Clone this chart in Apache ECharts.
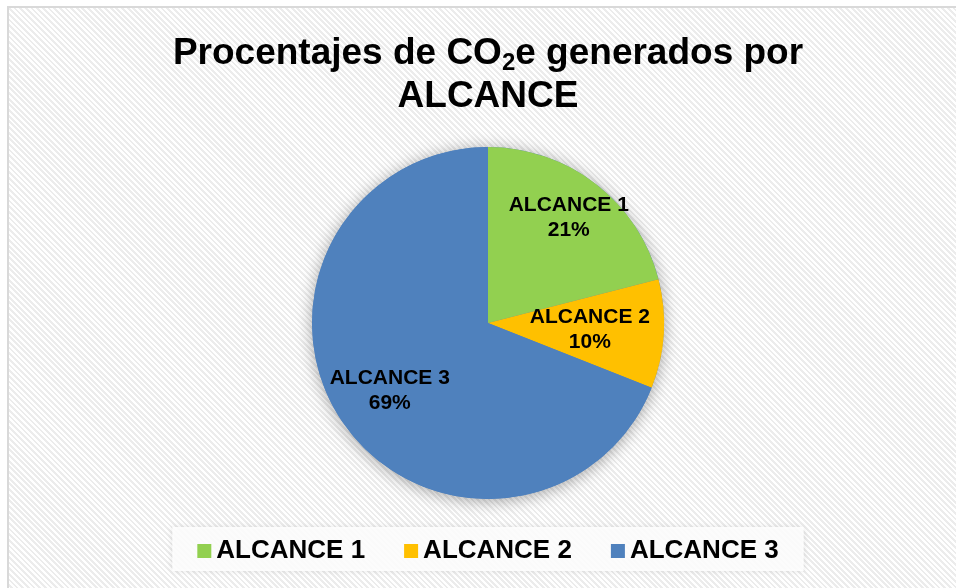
<!DOCTYPE html>
<html>
<head>
<meta charset="utf-8">
<script src="https://cdn.jsdelivr.net/npm/echarts@6/dist/echarts.min.js"></script>
<style>
  html, body { margin: 0; padding: 0; width: 956px; height: 588px; overflow: hidden; background: #ffffff; }
  #frame {
    position: absolute; left: 7px; top: 6px; width: 1000px; height: 1000px;
    border: 2px solid #d9d9d9;
    background: repeating-linear-gradient(45deg, #ffffff 0px, #ffffff 2px, #ececec 2px, #ececec 4px);
  }
  #c { position: absolute; left: 8px; top: 7px; width: 960px; height: 600px; }
</style>
</head>
<body>
<div id="frame"></div>
<div id="c"></div>
<script>
const categories = ['ALCANCE 1', 'ALCANCE 2', 'ALCANCE 3'];
const values = [21, 10, 69];
const colors = ['#92D050', '#FFC000', '#4F81BD'];
const labelShift = [[25, -33], [11, 1], [-23, 17]];

const FONT = "'Liberation Sans', Arial, sans-serif";
const chart = echarts.init(document.getElementById('c'), null, { renderer: 'canvas' });

const option = {
  backgroundColor: 'transparent',
  animation: false,
  title: {
    left: 'center',
    top: 25,
    padding: 0,
    text: '{t|Procentajes de CO}{s|2}{t|e generados por}\n{t|ALCANCE}',
    textStyle: {
      rich: {
        t: { fontFamily: FONT, fontSize: 37, fontWeight: 'bold', color: '#000', lineHeight: 43 },
        s: { fontFamily: FONT, fontSize: 24, fontWeight: 'bold', color: '#000', lineHeight: 23, verticalAlign: 'bottom' }
      }
    }
  },
  legend: {
    data: categories,
    left: 'center',
    top: 520,
    icon: 'rect',
    itemWidth: 14,
    itemHeight: 14,
    itemGap: 39,
    padding: [11, 25, 7, 25],
    backgroundColor: 'rgba(255,255,255,0.85)',
    shadowBlur: 6,
    shadowColor: 'rgba(0,0,0,0.12)',
    textStyle: { fontFamily: FONT, fontSize: 26, fontWeight: 'bold', color: '#000' }
  },
  series: [
    {
      type: 'pie',
      silent: true,
      center: ['50%', 316],
      radius: 176,
      label: { show: false },
      labelLine: { show: false },
      itemStyle: { color: '#4F81BD', shadowBlur: 16, shadowColor: 'rgba(0,0,0,0.35)', shadowOffsetY: 2 },
      data: [{ value: 1, name: '__shadow' }],
      legendHoverLink: false
    },
    {
      type: 'pie',
      center: ['50%', 316],
      radius: 176,
      startAngle: 90,
      clockwise: true,
      color: colors,
      data: categories.map((n, i) => ({ name: n, value: values[i] })),
      label: {
        show: true,
        position: 'inside',
        fontFamily: FONT,
        fontSize: 21,
        fontWeight: 'bold',
        color: '#000',
        lineHeight: 25,
        align: 'center',
        formatter: p => p.name + '\n' + Math.round(p.percent) + '%'
      },
      labelLayout: p => ({ dx: labelShift[p.dataIndex][0], dy: labelShift[p.dataIndex][1] }),
      labelLine: { show: false }
    }
  ]
};
chart.setOption(option);
</script>
</body>
</html>
